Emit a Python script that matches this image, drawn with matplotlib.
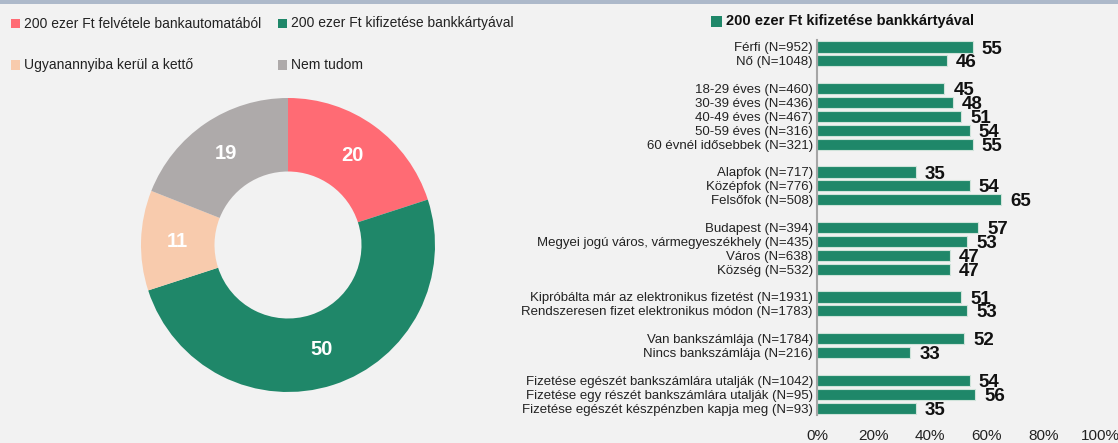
import matplotlib
matplotlib.use("Agg")
import matplotlib.pyplot as plt
from matplotlib.patches import Rectangle
import numpy as np

# donut data
pie_labels = ["200 ezer Ft felvétele bankautomatából", "200 ezer Ft kifizetése bankkártyával",
              "Ugyanannyiba kerül a kettő", "Nem tudom"]
pie_values = [20, 50, 11, 19]
pie_colors = ["#ff6b74", "#1f8769", "#f8cbad", "#aeaaaa"]

# bar data (share choosing card payment, %)
bar_title = "200 ezer Ft kifizetése bankkártyával"
bar_labels = ["Férfi (N=952)", "Nő (N=1048)",
              "18-29 éves (N=460)", "30-39 éves (N=436)", "40-49 éves (N=467)",
              "50-59 éves (N=316)", "60 évnél idősebbek (N=321)",
              "Alapfok (N=717)", "Középfok (N=776)", "Felsőfok (N=508)",
              "Budapest (N=394)", "Megyei jogú város, vármegyeszékhely (N=435)",
              "Város (N=638)", "Község (N=532)",
              "Kipróbálta már az elektronikus fizetést (N=1931)",
              "Rendszeresen fizet elektronikus módon (N=1783)",
              "Van bankszámlája (N=1784)", "Nincs bankszámlája (N=216)",
              "Fizetése egészét bankszámlára utalják (N=1042)",
              "Fizetése egy részét bankszámlára utalják (N=95)",
              "Fizetése egészét készpénzben kapja meg (N=93)"]
bar_values = [55, 46, 45, 48, 51, 54, 55, 35, 54, 65, 57, 53, 47, 47, 51, 53, 52, 33, 54, 56, 35]
group_sizes = [2, 5, 3, 4, 2, 2, 3]
xticks = [0, 20, 40, 60, 80, 100]

BG = "#f2f2f2"
GREEN = "#1f8769"
plt.rcParams["font.family"] = ["Liberation Sans", "DejaVu Sans"]

W, H = 1118, 443
fig = plt.figure(figsize=(W / 100, H / 100), dpi=100, facecolor=BG)

# thin border line at the very top
fig.add_artist(Rectangle((0, 1 - 3.5 / H), 1, 3.5 / H, transform=fig.transFigure,
                         color="#adb9ca", lw=0))

# ---- donut ----
cx, cy, r = 288, 245, 147
axp = fig.add_axes([(cx - r) / W, (H - cy - r) / H, 2 * r / W, 2 * r / H])
axp.set_facecolor(BG)
wedges, texts, autotexts = axp.pie(pie_values, colors=pie_colors, startangle=90, counterclock=False,
                                   radius=1, autopct=lambda p: "%d" % round(p), pctdistance=0.75,
                                   wedgeprops=dict(width=0.5, linewidth=0))
for t in autotexts:
    t.set_color("white")
    t.set_fontsize(14.5)
    t.set_fontweight("bold")
axp.set_xlim(-1, 1)
axp.set_ylim(-1, 1)
axp.set_aspect("equal")
axp.axis("off")

# legend of the donut, two per row
leg_pos = [(11, 23.5), (278, 23.5), (11, 65), (278, 65)]
for (lx, ly), lab, col in zip(leg_pos, pie_labels, pie_colors):
    fig.add_artist(Rectangle((lx / W, (H - ly - 4.5) / H), 9 / W, 9 / H,
                             transform=fig.transFigure, color=col, lw=0))
    fig.text((lx + 13) / W, (H - ly) / H, lab, fontsize=10, va="center", ha="left",
             color="#222222")

# ---- bars ----
ypos = []
pos = 0
for g in group_sizes:
    for i in range(g):
        ypos.append(pos)
        pos += 1
    pos += 1
ypos = np.array(ypos)

axb = fig.add_axes([817 / W, 1 - 415 / H, 283 / W, 375 / H])
axb.set_facecolor(BG)
axb.barh(ypos, bar_values, height=0.8, color=GREEN, edgecolor="#cfe3da", linewidth=0.8)
for y, v in zip(ypos, bar_values):
    axb.text(v + 3.2, y + 0.15, str(v), va="center", ha="left", fontsize=13.5,
             fontweight="bold", color="#111111")
axb.set_ylim(ypos[-1] + 0.5, -0.5)
axb.set_xlim(0, 100)
axb.set_yticks(ypos)
axb.set_yticklabels(bar_labels, fontsize=9.5, color="#222222")
axb.set_xticks(xticks)
axb.set_xticklabels(["%d%%" % t for t in xticks], fontsize=11, color="#222222")
axb.tick_params(axis="both", length=0)
axb.tick_params(axis="y", pad=3)
axb.tick_params(axis="x", pad=10)
for s in ["top", "right", "bottom"]:
    axb.spines[s].set_visible(False)
axb.spines["left"].set_color("#a6a6a6")
axb.spines["left"].set_linewidth(1.5)

# title with green square
fig.add_artist(Rectangle((711 / W, (H - 21 - 5.5) / H), 11 / W, 11 / H,
                         transform=fig.transFigure, color=GREEN, lw=0))
fig.text(726 / W, (H - 21) / H, bar_title, fontsize=10.5, fontweight="bold",
         va="center", ha="left", color="#111111")

fig.savefig("out.png", dpi=100, facecolor=BG)
